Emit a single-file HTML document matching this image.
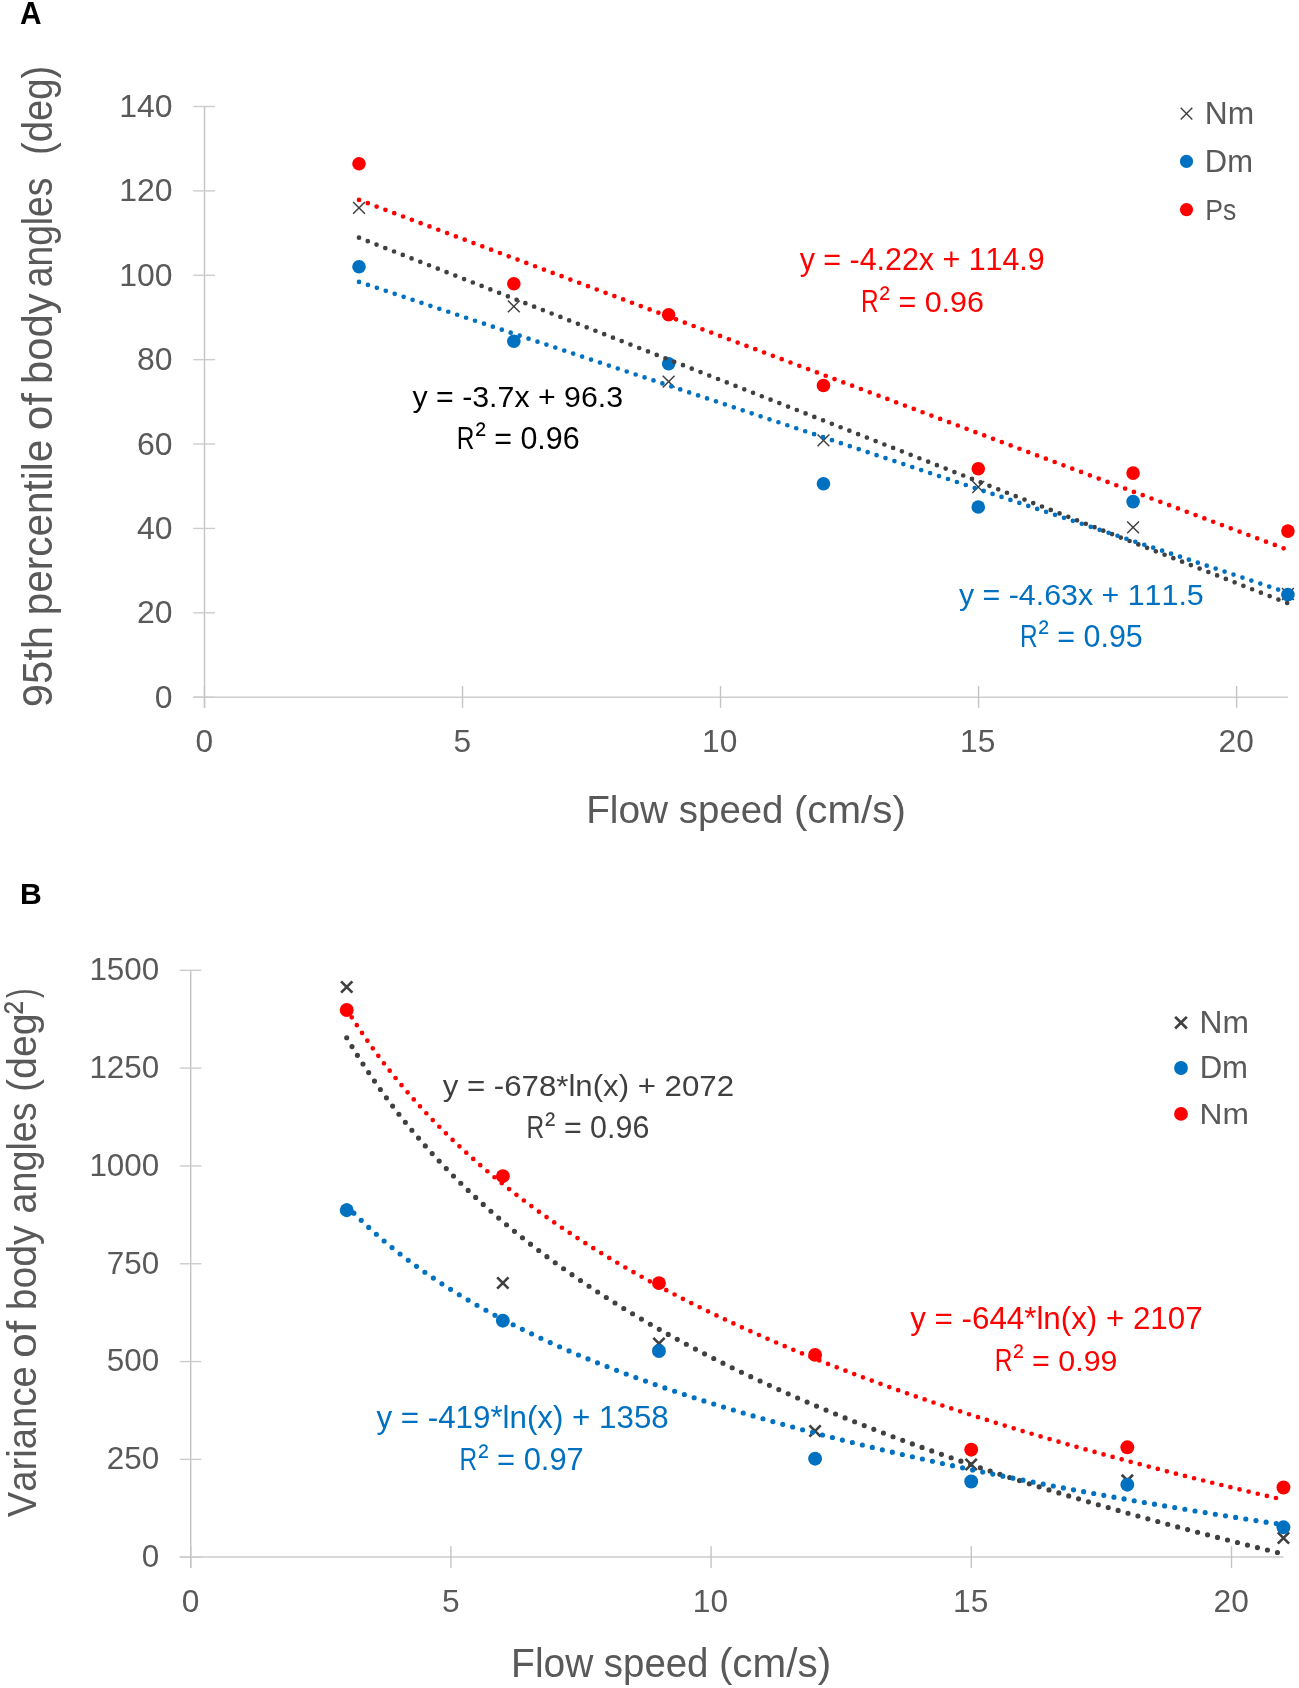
<!DOCTYPE html>
<html><head><meta charset="utf-8"><style>
html,body{margin:0;padding:0;background:#fff;}
svg{display:block;will-change:transform;}
text{font-family:"Liberation Sans",sans-serif;font-kerning:none;white-space:pre;}
</style></head><body>
<svg width="1299" height="1688" viewBox="0 0 1299 1688">
<rect width="1299" height="1688" fill="#fff"/>
<line x1="204.5" y1="106.3" x2="204.5" y2="707.8" stroke="#C4C4C4" stroke-width="1.4"/>
<line x1="193.2" y1="697.2" x2="1287.90" y2="697.2" stroke="#CDCDCD" stroke-width="1.4"/>
<line x1="193.2" y1="697.20" x2="215" y2="697.20" stroke="#CDCDCD" stroke-width="1.4"/>
<line x1="193.2" y1="612.81" x2="215" y2="612.81" stroke="#CDCDCD" stroke-width="1.4"/>
<line x1="193.2" y1="528.43" x2="215" y2="528.43" stroke="#CDCDCD" stroke-width="1.4"/>
<line x1="193.2" y1="444.04" x2="215" y2="444.04" stroke="#CDCDCD" stroke-width="1.4"/>
<line x1="193.2" y1="359.66" x2="215" y2="359.66" stroke="#CDCDCD" stroke-width="1.4"/>
<line x1="193.2" y1="275.27" x2="215" y2="275.27" stroke="#CDCDCD" stroke-width="1.4"/>
<line x1="193.2" y1="190.89" x2="215" y2="190.89" stroke="#CDCDCD" stroke-width="1.4"/>
<line x1="193.2" y1="106.50" x2="215" y2="106.50" stroke="#CDCDCD" stroke-width="1.4"/>
<line x1="204.50" y1="686" x2="204.50" y2="707.8" stroke="#C4C4C4" stroke-width="1.4"/>
<line x1="462.52" y1="686" x2="462.52" y2="707.8" stroke="#C4C4C4" stroke-width="1.4"/>
<line x1="720.55" y1="686" x2="720.55" y2="707.8" stroke="#C4C4C4" stroke-width="1.4"/>
<line x1="978.57" y1="686" x2="978.57" y2="707.8" stroke="#C4C4C4" stroke-width="1.4"/>
<line x1="1236.60" y1="686" x2="1236.60" y2="707.8" stroke="#C4C4C4" stroke-width="1.4"/>
<text transform="translate(156.01,707.80) scale(1.0000,1)" x="-1.25" y="0" font-size="31.98" font-weight="normal" fill="#595959">0</text>
<text transform="translate(138.59,623.41) scale(1.0000,1)" x="-1.61" y="0" font-size="31.98" font-weight="normal" fill="#595959">20</text>
<text transform="translate(137.71,539.03) scale(1.0000,1)" x="-0.73" y="0" font-size="31.98" font-weight="normal" fill="#595959">40</text>
<text transform="translate(138.60,454.64) scale(1.0000,1)" x="-1.62" y="0" font-size="31.98" font-weight="normal" fill="#595959">60</text>
<text transform="translate(138.37,370.26) scale(1.0000,1)" x="-1.39" y="0" font-size="31.98" font-weight="normal" fill="#595959">80</text>
<text transform="translate(121.63,285.87) scale(1.0000,1)" x="-2.44" y="0" font-size="31.98" font-weight="normal" fill="#595959">100</text>
<text transform="translate(121.63,201.49) scale(1.0000,1)" x="-2.44" y="0" font-size="31.98" font-weight="normal" fill="#595959">120</text>
<text transform="translate(121.63,117.10) scale(1.0000,1)" x="-2.44" y="0" font-size="31.98" font-weight="normal" fill="#595959">140</text>
<text transform="translate(196.63,752.00) scale(1.0000,1)" x="-1.24" y="0" font-size="31.69" font-weight="normal" fill="#595959">0</text>
<text transform="translate(454.71,752.00) scale(1.0000,1)" x="-1.27" y="0" font-size="31.69" font-weight="normal" fill="#595959">5</text>
<text transform="translate(704.45,752.00) scale(1.0000,1)" x="-2.41" y="0" font-size="31.69" font-weight="normal" fill="#595959">10</text>
<text transform="translate(962.52,752.00) scale(1.0000,1)" x="-2.41" y="0" font-size="31.69" font-weight="normal" fill="#595959">15</text>
<text transform="translate(1220.09,752.00) scale(1.0000,1)" x="-1.59" y="0" font-size="31.69" font-weight="normal" fill="#595959">20</text>
<path d="M353.09,201.97L364.94,213.83M353.09,213.83L364.94,201.97" stroke="#404040" stroke-width="1.5" fill="none"/>
<path d="M507.90,300.47L519.75,312.32M507.90,312.32L519.75,300.47" stroke="#404040" stroke-width="1.5" fill="none"/>
<path d="M662.72,375.68L674.57,387.53M662.72,387.53L674.57,375.68" stroke="#404040" stroke-width="1.5" fill="none"/>
<path d="M817.54,434.47L829.38,446.32M817.54,446.32L829.38,434.47" stroke="#404040" stroke-width="1.5" fill="none"/>
<path d="M972.35,481.07L984.20,492.93M972.35,492.93L984.20,481.07" stroke="#404040" stroke-width="1.5" fill="none"/>
<path d="M1127.16,521.48L1139.01,533.32M1127.16,533.32L1139.01,521.48" stroke="#404040" stroke-width="1.5" fill="none"/>
<path d="M1281.98,588.08L1293.83,599.92M1281.98,599.92L1293.83,588.08" stroke="#404040" stroke-width="1.5" fill="none"/>
<circle cx="359.01" cy="266.70" r="6.80" fill="#0070C0"/>
<circle cx="513.83" cy="341.20" r="6.80" fill="#0070C0"/>
<circle cx="668.64" cy="363.70" r="6.80" fill="#0070C0"/>
<circle cx="823.46" cy="483.80" r="6.80" fill="#0070C0"/>
<circle cx="978.27" cy="507.00" r="6.80" fill="#0070C0"/>
<circle cx="1133.09" cy="501.60" r="6.80" fill="#0070C0"/>
<circle cx="1287.90" cy="594.60" r="6.80" fill="#0070C0"/>
<circle cx="359.01" cy="163.80" r="6.80" fill="#FF0000"/>
<circle cx="513.83" cy="283.70" r="6.80" fill="#FF0000"/>
<circle cx="668.64" cy="314.70" r="6.80" fill="#FF0000"/>
<circle cx="823.46" cy="385.50" r="6.80" fill="#FF0000"/>
<circle cx="978.27" cy="468.80" r="6.80" fill="#FF0000"/>
<circle cx="1133.09" cy="473.10" r="6.80" fill="#FF0000"/>
<circle cx="1287.90" cy="531.10" r="6.80" fill="#FF0000"/>
<path d="M359.01,199.90 L1287.90,549.90" stroke="#FF0000" stroke-width="4.7" stroke-linecap="round" stroke-dasharray="0 9.41" fill="none"/>
<path d="M359.01,237.70 L1287.90,603.30" stroke="#404040" stroke-width="4.7" stroke-linecap="round" stroke-dasharray="0 9.41" fill="none"/>
<path d="M359.01,281.90 L1287.90,592.80" stroke="#0070C0" stroke-width="4.7" stroke-linecap="round" stroke-dasharray="0 9.41" fill="none"/>
<path d="M1180.69,107.79L1192.31,119.41M1180.69,119.41L1192.31,107.79" stroke="#404040" stroke-width="1.4" fill="none"/>
<circle cx="1186.50" cy="161.40" r="6.60" fill="#0070C0"/>
<circle cx="1186.50" cy="209.60" r="6.60" fill="#FF0000"/>
<text transform="translate(1207.40,123.90) scale(1.0165,1)" x="-2.56" y="0" font-size="31.25" font-weight="normal" fill="#595959">Nm</text>
<text transform="translate(1207.40,171.80) scale(1.0007,1)" x="-2.54" y="0" font-size="30.96" font-weight="normal" fill="#595959">Dm</text>
<text transform="translate(1207.40,220.00) scale(0.8841,1)" x="-2.47" y="0" font-size="30.09" font-weight="normal" fill="#595959">Ps</text>
<text transform="translate(799.80,269.90) scale(0.9685,1)" x="-0.08" y="0" font-size="31.40" font-weight="normal" fill="#FF0000">y = -4.22x + 114.9</text>
<text transform="translate(863.00,311.70) scale(0.7637,1)" x="-2.62" y="0" font-size="31.98" font-weight="normal" fill="#FF0000">R</text>
<text transform="translate(880.20,308.56) scale(0.9607,1)" x="-0.65" y="0" font-size="32.22" fill="#FF0000">²</text>
<text transform="translate(899.90,311.70) scale(1.0026,1)" x="-1.48" y="0" font-size="30.38" font-weight="normal" fill="#FF0000">= 0.96</text>
<text transform="translate(412.60,406.60) scale(0.9972,1)" x="-0.07" y="0" font-size="30.38" font-weight="normal" fill="#000000">y = -3.7x + 96.3</text>
<text transform="translate(458.80,448.60) scale(0.7637,1)" x="-2.62" y="0" font-size="31.98" font-weight="normal" fill="#000000">R</text>
<text transform="translate(476.00,445.46) scale(0.9607,1)" x="-0.65" y="0" font-size="32.22" fill="#000000">²</text>
<text transform="translate(495.70,448.60) scale(0.9826,1)" x="-1.51" y="0" font-size="30.96" font-weight="normal" fill="#000000">= 0.96</text>
<text transform="translate(959.00,604.90) scale(1.0349,1)" x="-0.07" y="0" font-size="29.36" font-weight="normal" fill="#0070C0">y = -4.63x + 111.5</text>
<text transform="translate(1021.90,646.60) scale(0.7637,1)" x="-2.62" y="0" font-size="31.98" font-weight="normal" fill="#0070C0">R</text>
<text transform="translate(1039.10,643.46) scale(0.9607,1)" x="-0.65" y="0" font-size="32.22" fill="#0070C0">²</text>
<text transform="translate(1058.80,646.60) scale(0.9971,1)" x="-1.49" y="0" font-size="30.52" font-weight="normal" fill="#0070C0">= 0.95</text>
<text transform="translate(20.80,24.20) scale(0.9766,1)" x="-0.76" y="0" font-size="30.52" font-weight="bold" fill="#000000">A</text>
<text transform="translate(589.30,823.10) scale(0.9883,1)" x="-3.22" y="0" font-size="39.24" font-weight="normal" fill="#595959">Flow</text>
<text transform="translate(679.90,823.10) scale(0.9787,1)" x="-1.09" y="0" font-size="39.24" font-weight="normal" fill="#595959">speed</text>
<text transform="translate(796.40,823.10) scale(1.0278,1)" x="-2.43" y="0" font-size="39.24" font-weight="normal" fill="#595959">(cm/s)</text>
<text transform="translate(52.00,705.40) rotate(-90) scale(0.9653,1)" x="-2.03" y="0" font-size="43.31" font-weight="normal" fill="#595959">95th</text>
<text transform="translate(52.00,612.60) rotate(-90) scale(0.9350,1)" x="-2.79" y="0" font-size="43.31" font-weight="normal" fill="#595959">percentile</text>
<text transform="translate(52.00,428.30) rotate(-90) scale(1.0242,1)" x="-1.82" y="0" font-size="43.31" font-weight="normal" fill="#595959">of</text>
<text transform="translate(52.00,381.20) rotate(-90) scale(0.9632,1)" x="-2.79" y="0" font-size="43.31" font-weight="normal" fill="#595959">body</text>
<text transform="translate(52.00,285.70) rotate(-90) scale(0.8597,1)" x="-1.84" y="0" font-size="43.31" font-weight="normal" fill="#595959">angles</text>
<text transform="translate(52.00,152.70) rotate(-90) scale(0.8836,1)" x="-2.69" y="0" font-size="43.31" font-weight="normal" fill="#595959">(deg)</text>
<line x1="190.7" y1="970.1" x2="190.7" y2="1567.9" stroke="#C4C4C4" stroke-width="1.4"/>
<line x1="179.8" y1="1556.95" x2="1283.44" y2="1556.95" stroke="#CDCDCD" stroke-width="1.4"/>
<line x1="179.8" y1="1557.20" x2="201.4" y2="1557.20" stroke="#CDCDCD" stroke-width="1.4"/>
<line x1="179.8" y1="1459.38" x2="201.4" y2="1459.38" stroke="#CDCDCD" stroke-width="1.4"/>
<line x1="179.8" y1="1361.57" x2="201.4" y2="1361.57" stroke="#CDCDCD" stroke-width="1.4"/>
<line x1="179.8" y1="1263.75" x2="201.4" y2="1263.75" stroke="#CDCDCD" stroke-width="1.4"/>
<line x1="179.8" y1="1165.93" x2="201.4" y2="1165.93" stroke="#CDCDCD" stroke-width="1.4"/>
<line x1="179.8" y1="1068.12" x2="201.4" y2="1068.12" stroke="#CDCDCD" stroke-width="1.4"/>
<line x1="179.8" y1="970.30" x2="201.4" y2="970.30" stroke="#CDCDCD" stroke-width="1.4"/>
<line x1="190.70" y1="1546.2" x2="190.70" y2="1567.9" stroke="#C4C4C4" stroke-width="1.4"/>
<line x1="450.90" y1="1546.2" x2="450.90" y2="1567.9" stroke="#C4C4C4" stroke-width="1.4"/>
<line x1="711.10" y1="1546.2" x2="711.10" y2="1567.9" stroke="#C4C4C4" stroke-width="1.4"/>
<line x1="971.30" y1="1546.2" x2="971.30" y2="1567.9" stroke="#C4C4C4" stroke-width="1.4"/>
<line x1="1231.50" y1="1546.2" x2="1231.50" y2="1567.9" stroke="#C4C4C4" stroke-width="1.4"/>
<text transform="translate(142.99,1567.00) scale(1.0000,1)" x="-1.23" y="0" font-size="31.40" font-weight="normal" fill="#595959">0</text>
<text transform="translate(108.42,1469.18) scale(1.0000,1)" x="-1.58" y="0" font-size="31.40" font-weight="normal" fill="#595959">250</text>
<text transform="translate(108.10,1371.37) scale(1.0000,1)" x="-1.26" y="0" font-size="31.40" font-weight="normal" fill="#595959">500</text>
<text transform="translate(108.45,1273.55) scale(1.0000,1)" x="-1.61" y="0" font-size="31.40" font-weight="normal" fill="#595959">750</text>
<text transform="translate(91.77,1175.73) scale(1.0000,1)" x="-2.39" y="0" font-size="31.40" font-weight="normal" fill="#595959">1000</text>
<text transform="translate(91.77,1077.92) scale(1.0000,1)" x="-2.39" y="0" font-size="31.40" font-weight="normal" fill="#595959">1250</text>
<text transform="translate(91.77,980.10) scale(1.0000,1)" x="-2.39" y="0" font-size="31.40" font-weight="normal" fill="#595959">1500</text>
<text transform="translate(183.03,1612.10) scale(1.0000,1)" x="-1.24" y="0" font-size="31.69" font-weight="normal" fill="#595959">0</text>
<text transform="translate(443.29,1612.10) scale(1.0000,1)" x="-1.27" y="0" font-size="31.69" font-weight="normal" fill="#595959">5</text>
<text transform="translate(695.20,1612.10) scale(1.0000,1)" x="-2.41" y="0" font-size="31.69" font-weight="normal" fill="#595959">10</text>
<text transform="translate(955.45,1612.10) scale(1.0000,1)" x="-2.41" y="0" font-size="31.69" font-weight="normal" fill="#595959">15</text>
<text transform="translate(1215.19,1612.10) scale(1.0000,1)" x="-1.59" y="0" font-size="31.69" font-weight="normal" fill="#595959">20</text>
<path d="M341.07,981.35L352.38,992.65M341.07,992.65L352.38,981.35" stroke="#404040" stroke-width="2.7" fill="none"/>
<path d="M497.19,1277.35L508.50,1288.65M497.19,1288.65L508.50,1277.35" stroke="#404040" stroke-width="2.7" fill="none"/>
<path d="M653.31,1337.85L664.62,1349.15M653.31,1349.15L664.62,1337.85" stroke="#404040" stroke-width="2.7" fill="none"/>
<path d="M809.43,1425.35L820.74,1436.65M809.43,1436.65L820.74,1425.35" stroke="#404040" stroke-width="2.7" fill="none"/>
<path d="M965.55,1458.85L976.86,1470.15M965.55,1470.15L976.86,1458.85" stroke="#404040" stroke-width="2.7" fill="none"/>
<path d="M1121.67,1474.75L1132.98,1486.06M1121.67,1486.06L1132.98,1474.75" stroke="#404040" stroke-width="2.7" fill="none"/>
<path d="M1277.79,1532.35L1289.10,1543.65M1277.79,1543.65L1289.10,1532.35" stroke="#404040" stroke-width="2.7" fill="none"/>
<circle cx="346.72" cy="1210.20" r="6.95" fill="#0070C0"/>
<circle cx="502.84" cy="1320.70" r="6.95" fill="#0070C0"/>
<circle cx="658.96" cy="1351.00" r="6.95" fill="#0070C0"/>
<circle cx="815.08" cy="1458.70" r="6.95" fill="#0070C0"/>
<circle cx="971.20" cy="1481.50" r="6.95" fill="#0070C0"/>
<circle cx="1127.32" cy="1484.70" r="6.95" fill="#0070C0"/>
<circle cx="1283.44" cy="1527.30" r="6.95" fill="#0070C0"/>
<circle cx="346.72" cy="1010.00" r="6.95" fill="#FF0000"/>
<circle cx="502.84" cy="1176.20" r="6.95" fill="#FF0000"/>
<circle cx="658.96" cy="1283.10" r="6.95" fill="#FF0000"/>
<circle cx="815.08" cy="1354.90" r="6.95" fill="#FF0000"/>
<circle cx="971.20" cy="1449.70" r="6.95" fill="#FF0000"/>
<circle cx="1127.32" cy="1447.30" r="6.95" fill="#FF0000"/>
<circle cx="1283.44" cy="1487.50" r="6.95" fill="#FF0000"/>
<path d="M346.72,1009.42 L349.06,1013.18 L351.40,1016.87 L353.75,1020.52 L356.09,1024.11 L358.43,1027.65 L360.77,1031.14 L363.11,1034.58 L365.45,1037.98 L367.80,1041.33 L370.14,1044.64 L372.48,1047.91 L374.82,1051.13 L377.16,1054.31 L379.51,1057.46 L381.85,1060.56 L384.19,1063.63 L386.53,1066.66 L388.87,1069.65 L391.21,1072.61 L393.56,1075.53 L395.90,1078.42 L398.24,1081.28 L400.58,1084.11 L402.92,1086.90 L405.26,1089.67 L407.61,1092.40 L409.95,1095.11 L412.29,1097.78 L414.63,1100.43 L416.97,1103.05 L419.32,1105.64 L421.66,1108.21 L424.00,1110.75 L426.34,1113.27 L428.68,1115.76 L431.02,1118.22 L433.37,1120.67 L435.71,1123.08 L438.05,1125.48 L440.39,1127.85 L442.73,1130.21 L445.08,1132.54 L447.42,1134.84 L449.76,1137.13 L452.10,1139.40 L454.44,1141.64 L456.78,1143.87 L459.13,1146.08 L461.47,1148.27 L463.81,1150.43 L466.15,1152.58 L468.49,1154.72 L470.84,1156.83 L473.18,1158.93 L475.52,1161.01 L477.86,1163.07 L480.20,1165.12 L482.54,1167.15 L484.89,1169.16 L487.23,1171.16 L489.57,1173.14 L491.91,1175.10 L494.25,1177.05 L496.60,1178.99 L498.94,1180.91 L501.28,1182.82 L503.62,1184.71 L505.96,1186.59 L508.30,1188.45 L510.65,1190.30 L512.99,1192.14 L515.33,1193.96 L517.67,1195.77 L520.01,1197.57 L522.36,1199.36 L524.70,1201.13 L527.04,1202.89 L529.38,1204.64 L531.72,1206.37 L534.06,1208.10 L536.41,1209.81 L538.75,1211.51 L541.09,1213.20 L543.43,1214.88 L545.77,1216.54 L548.11,1218.20 L550.46,1219.84 L552.80,1221.48 L555.14,1223.10 L557.48,1224.72 L559.82,1226.32 L562.17,1227.91 L564.51,1229.50 L566.85,1231.07 L569.19,1232.63 L571.53,1234.19 L573.87,1235.73 L576.22,1237.27 L578.56,1238.79 L580.90,1240.31 L583.24,1241.82 L585.58,1243.31 L587.93,1244.80 L590.27,1246.28 L592.61,1247.76 L594.95,1249.22 L597.29,1250.67 L599.63,1252.12 L601.98,1253.56 L604.32,1254.99 L606.66,1256.41 L609.00,1257.83 L611.34,1259.23 L613.69,1260.63 L616.03,1262.02 L618.37,1263.41 L620.71,1264.78 L623.05,1266.15 L625.39,1267.51 L627.74,1268.86 L630.08,1270.21 L632.42,1271.55 L634.76,1272.88 L637.10,1274.21 L639.45,1275.52 L641.79,1276.84 L644.13,1278.14 L646.47,1279.44 L648.81,1280.73 L651.15,1282.01 L653.50,1283.29 L655.84,1284.56 L658.18,1285.83 L660.52,1287.09 L662.86,1288.34 L665.20,1289.59 L667.55,1290.83 L669.89,1292.06 L672.23,1293.29 L674.57,1294.51 L676.91,1295.73 L679.26,1296.94 L681.60,1298.14 L683.94,1299.34 L686.28,1300.53 L688.62,1301.72 L690.96,1302.90 L693.31,1304.08 L695.65,1305.25 L697.99,1306.42 L700.33,1307.58 L702.67,1308.73 L705.02,1309.88 L707.36,1311.03 L709.70,1312.17 L712.04,1313.30 L714.38,1314.43 L716.72,1315.55 L719.07,1316.67 L721.41,1317.79 L723.75,1318.90 L726.09,1320.00 L728.43,1321.10 L730.78,1322.19 L733.12,1323.28 L735.46,1324.37 L737.80,1325.45 L740.14,1326.53 L742.48,1327.60 L744.83,1328.66 L747.17,1329.73 L749.51,1330.79 L751.85,1331.84 L754.19,1332.89 L756.54,1333.93 L758.88,1334.97 L761.22,1336.01 L763.56,1337.04 L765.90,1338.07 L768.24,1339.09 L770.59,1340.11 L772.93,1341.13 L775.27,1342.14 L777.61,1343.15 L779.95,1344.15 L782.29,1345.15 L784.64,1346.14 L786.98,1347.14 L789.32,1348.12 L791.66,1349.11 L794.00,1350.09 L796.35,1351.06 L798.69,1352.03 L801.03,1353.00 L803.37,1353.97 L805.71,1354.93 L808.05,1355.89 L810.40,1356.84 L812.74,1357.79 L815.08,1358.74 L817.42,1359.68 L819.76,1360.62 L822.11,1361.56 L824.45,1362.49 L826.79,1363.42 L829.13,1364.34 L831.47,1365.27 L833.81,1366.19 L836.16,1367.10 L838.50,1368.01 L840.84,1368.92 L843.18,1369.83 L845.52,1370.73 L847.87,1371.63 L850.21,1372.53 L852.55,1373.42 L854.89,1374.31 L857.23,1375.20 L859.57,1376.08 L861.92,1376.96 L864.26,1377.84 L866.60,1378.71 L868.94,1379.58 L871.28,1380.45 L873.63,1381.32 L875.97,1382.18 L878.31,1383.04 L880.65,1383.90 L882.99,1384.75 L885.33,1385.60 L887.68,1386.45 L890.02,1387.29 L892.36,1388.14 L894.70,1388.98 L897.04,1389.81 L899.38,1390.65 L901.73,1391.48 L904.07,1392.31 L906.41,1393.13 L908.75,1393.95 L911.09,1394.77 L913.44,1395.59 L915.78,1396.41 L918.12,1397.22 L920.46,1398.03 L922.80,1398.84 L925.14,1399.64 L927.49,1400.44 L929.83,1401.24 L932.17,1402.04 L934.51,1402.83 L936.85,1403.63 L939.20,1404.42 L941.54,1405.20 L943.88,1405.99 L946.22,1406.77 L948.56,1407.55 L950.90,1408.33 L953.25,1409.10 L955.59,1409.87 L957.93,1410.64 L960.27,1411.41 L962.61,1412.18 L964.96,1412.94 L967.30,1413.70 L969.64,1414.46 L971.98,1415.22 L974.32,1415.97 L976.66,1416.72 L979.01,1417.47 L981.35,1418.22 L983.69,1418.96 L986.03,1419.71 L988.37,1420.45 L990.72,1421.19 L993.06,1421.92 L995.40,1422.66 L997.74,1423.39 L1000.08,1424.12 L1002.42,1424.85 L1004.77,1425.57 L1007.11,1426.30 L1009.45,1427.02 L1011.79,1427.74 L1014.13,1428.46 L1016.47,1429.17 L1018.82,1429.88 L1021.16,1430.60 L1023.50,1431.30 L1025.84,1432.01 L1028.18,1432.72 L1030.53,1433.42 L1032.87,1434.12 L1035.21,1434.82 L1037.55,1435.52 L1039.89,1436.22 L1042.23,1436.91 L1044.58,1437.60 L1046.92,1438.29 L1049.26,1438.98 L1051.60,1439.67 L1053.94,1440.35 L1056.29,1441.03 L1058.63,1441.71 L1060.97,1442.39 L1063.31,1443.07 L1065.65,1443.75 L1067.99,1444.42 L1070.34,1445.09 L1072.68,1445.76 L1075.02,1446.43 L1077.36,1447.09 L1079.70,1447.76 L1082.05,1448.42 L1084.39,1449.08 L1086.73,1449.74 L1089.07,1450.40 L1091.41,1451.06 L1093.75,1451.71 L1096.10,1452.36 L1098.44,1453.01 L1100.78,1453.66 L1103.12,1454.31 L1105.46,1454.96 L1107.81,1455.60 L1110.15,1456.24 L1112.49,1456.88 L1114.83,1457.52 L1117.17,1458.16 L1119.51,1458.80 L1121.86,1459.43 L1124.20,1460.06 L1126.54,1460.69 L1128.88,1461.32 L1131.22,1461.95 L1133.56,1462.58 L1135.91,1463.20 L1138.25,1463.83 L1140.59,1464.45 L1142.93,1465.07 L1145.27,1465.69 L1147.62,1466.31 L1149.96,1466.92 L1152.30,1467.54 L1154.64,1468.15 L1156.98,1468.76 L1159.32,1469.37 L1161.67,1469.98 L1164.01,1470.59 L1166.35,1471.19 L1168.69,1471.79 L1171.03,1472.40 L1173.38,1473.00 L1175.72,1473.60 L1178.06,1474.20 L1180.40,1474.79 L1182.74,1475.39 L1185.08,1475.98 L1187.43,1476.58 L1189.77,1477.17 L1192.11,1477.76 L1194.45,1478.35 L1196.79,1478.93 L1199.14,1479.52 L1201.48,1480.10 L1203.82,1480.69 L1206.16,1481.27 L1208.50,1481.85 L1210.84,1482.43 L1213.19,1483.00 L1215.53,1483.58 L1217.87,1484.16 L1220.21,1484.73 L1222.55,1485.30 L1224.89,1485.87 L1227.24,1486.44 L1229.58,1487.01 L1231.92,1487.58 L1234.26,1488.14 L1236.60,1488.71 L1238.95,1489.27 L1241.29,1489.84 L1243.63,1490.40 L1245.97,1490.96 L1248.31,1491.51 L1250.65,1492.07 L1253.00,1492.63 L1255.34,1493.18 L1257.68,1493.74 L1260.02,1494.29 L1262.36,1494.84 L1264.71,1495.39 L1267.05,1495.94 L1269.39,1496.49 L1271.73,1497.03 L1274.07,1497.58 L1276.41,1498.12 L1278.76,1498.66 L1281.10,1499.21 L1283.44,1499.75" stroke="#FF0000" stroke-width="4.7" stroke-linecap="round" stroke-dasharray="0 9.36" fill="none"/>
<path d="M346.72,1037.73 L349.06,1041.68 L351.40,1045.58 L353.75,1049.41 L356.09,1053.19 L358.43,1056.92 L360.77,1060.60 L363.11,1064.22 L365.45,1067.80 L367.80,1071.33 L370.14,1074.81 L372.48,1078.25 L374.82,1081.64 L377.16,1084.99 L379.51,1088.30 L381.85,1091.57 L384.19,1094.80 L386.53,1097.99 L388.87,1101.14 L391.21,1104.25 L393.56,1107.33 L395.90,1110.38 L398.24,1113.39 L400.58,1116.36 L402.92,1119.30 L405.26,1122.21 L407.61,1125.09 L409.95,1127.94 L412.29,1130.76 L414.63,1133.54 L416.97,1136.30 L419.32,1139.03 L421.66,1141.73 L424.00,1144.41 L426.34,1147.06 L428.68,1149.68 L431.02,1152.28 L433.37,1154.85 L435.71,1157.39 L438.05,1159.92 L440.39,1162.42 L442.73,1164.89 L445.08,1167.34 L447.42,1169.77 L449.76,1172.18 L452.10,1174.57 L454.44,1176.93 L456.78,1179.28 L459.13,1181.60 L461.47,1183.90 L463.81,1186.19 L466.15,1188.45 L468.49,1190.70 L470.84,1192.92 L473.18,1195.13 L475.52,1197.32 L477.86,1199.49 L480.20,1201.65 L482.54,1203.78 L484.89,1205.90 L487.23,1208.00 L489.57,1210.09 L491.91,1212.16 L494.25,1214.21 L496.60,1216.25 L498.94,1218.27 L501.28,1220.28 L503.62,1222.27 L505.96,1224.25 L508.30,1226.21 L510.65,1228.16 L512.99,1230.10 L515.33,1232.02 L517.67,1233.92 L520.01,1235.81 L522.36,1237.69 L524.70,1239.56 L527.04,1241.41 L529.38,1243.25 L531.72,1245.08 L534.06,1246.90 L536.41,1248.70 L538.75,1250.49 L541.09,1252.27 L543.43,1254.03 L545.77,1255.79 L548.11,1257.53 L550.46,1259.26 L552.80,1260.98 L555.14,1262.69 L557.48,1264.39 L559.82,1266.08 L562.17,1267.76 L564.51,1269.42 L566.85,1271.08 L569.19,1272.73 L571.53,1274.36 L573.87,1275.99 L576.22,1277.60 L578.56,1279.21 L580.90,1280.81 L583.24,1282.39 L585.58,1283.97 L587.93,1285.54 L590.27,1287.10 L592.61,1288.65 L594.95,1290.19 L597.29,1291.72 L599.63,1293.24 L601.98,1294.76 L604.32,1296.26 L606.66,1297.76 L609.00,1299.25 L611.34,1300.73 L613.69,1302.20 L616.03,1303.67 L618.37,1305.12 L620.71,1306.57 L623.05,1308.01 L625.39,1309.45 L627.74,1310.87 L630.08,1312.29 L632.42,1313.70 L634.76,1315.10 L637.10,1316.49 L639.45,1317.88 L641.79,1319.26 L644.13,1320.64 L646.47,1322.00 L648.81,1323.36 L651.15,1324.71 L653.50,1326.06 L655.84,1327.40 L658.18,1328.73 L660.52,1330.06 L662.86,1331.37 L665.20,1332.69 L667.55,1333.99 L669.89,1335.29 L672.23,1336.58 L674.57,1337.87 L676.91,1339.15 L679.26,1340.43 L681.60,1341.69 L683.94,1342.96 L686.28,1344.21 L688.62,1345.46 L690.96,1346.71 L693.31,1347.95 L695.65,1349.18 L697.99,1350.41 L700.33,1351.63 L702.67,1352.84 L705.02,1354.05 L707.36,1355.26 L709.70,1356.46 L712.04,1357.65 L714.38,1358.84 L716.72,1360.02 L719.07,1361.20 L721.41,1362.38 L723.75,1363.54 L726.09,1364.71 L728.43,1365.86 L730.78,1367.02 L733.12,1368.16 L735.46,1369.31 L737.80,1370.44 L740.14,1371.58 L742.48,1372.71 L744.83,1373.83 L747.17,1374.95 L749.51,1376.06 L751.85,1377.17 L754.19,1378.27 L756.54,1379.37 L758.88,1380.47 L761.22,1381.56 L763.56,1382.65 L765.90,1383.73 L768.24,1384.81 L770.59,1385.88 L772.93,1386.95 L775.27,1388.01 L777.61,1389.07 L779.95,1390.13 L782.29,1391.18 L784.64,1392.23 L786.98,1393.27 L789.32,1394.31 L791.66,1395.35 L794.00,1396.38 L796.35,1397.41 L798.69,1398.43 L801.03,1399.45 L803.37,1400.47 L805.71,1401.48 L808.05,1402.49 L810.40,1403.49 L812.74,1404.49 L815.08,1405.49 L817.42,1406.48 L819.76,1407.47 L822.11,1408.46 L824.45,1409.44 L826.79,1410.42 L829.13,1411.39 L831.47,1412.36 L833.81,1413.33 L836.16,1414.29 L838.50,1415.25 L840.84,1416.21 L843.18,1417.17 L845.52,1418.12 L847.87,1419.06 L850.21,1420.01 L852.55,1420.95 L854.89,1421.88 L857.23,1422.82 L859.57,1423.75 L861.92,1424.67 L864.26,1425.60 L866.60,1426.52 L868.94,1427.44 L871.28,1428.35 L873.63,1429.26 L875.97,1430.17 L878.31,1431.07 L880.65,1431.98 L882.99,1432.87 L885.33,1433.77 L887.68,1434.66 L890.02,1435.55 L892.36,1436.44 L894.70,1437.32 L897.04,1438.20 L899.38,1439.08 L901.73,1439.96 L904.07,1440.83 L906.41,1441.70 L908.75,1442.56 L911.09,1443.43 L913.44,1444.29 L915.78,1445.15 L918.12,1446.00 L920.46,1446.85 L922.80,1447.70 L925.14,1448.55 L927.49,1449.40 L929.83,1450.24 L932.17,1451.08 L934.51,1451.91 L936.85,1452.75 L939.20,1453.58 L941.54,1454.41 L943.88,1455.23 L946.22,1456.06 L948.56,1456.88 L950.90,1457.70 L953.25,1458.51 L955.59,1459.32 L957.93,1460.14 L960.27,1460.94 L962.61,1461.75 L964.96,1462.55 L967.30,1463.35 L969.64,1464.15 L971.98,1464.95 L974.32,1465.74 L976.66,1466.53 L979.01,1467.32 L981.35,1468.11 L983.69,1468.89 L986.03,1469.68 L988.37,1470.46 L990.72,1471.23 L993.06,1472.01 L995.40,1472.78 L997.74,1473.55 L1000.08,1474.32 L1002.42,1475.09 L1004.77,1475.85 L1007.11,1476.61 L1009.45,1477.37 L1011.79,1478.13 L1014.13,1478.89 L1016.47,1479.64 L1018.82,1480.39 L1021.16,1481.14 L1023.50,1481.89 L1025.84,1482.63 L1028.18,1483.37 L1030.53,1484.12 L1032.87,1484.85 L1035.21,1485.59 L1037.55,1486.33 L1039.89,1487.06 L1042.23,1487.79 L1044.58,1488.52 L1046.92,1489.24 L1049.26,1489.97 L1051.60,1490.69 L1053.94,1491.41 L1056.29,1492.13 L1058.63,1492.85 L1060.97,1493.56 L1063.31,1494.27 L1065.65,1494.98 L1067.99,1495.69 L1070.34,1496.40 L1072.68,1497.11 L1075.02,1497.81 L1077.36,1498.51 L1079.70,1499.21 L1082.05,1499.91 L1084.39,1500.60 L1086.73,1501.30 L1089.07,1501.99 L1091.41,1502.68 L1093.75,1503.37 L1096.10,1504.06 L1098.44,1504.74 L1100.78,1505.43 L1103.12,1506.11 L1105.46,1506.79 L1107.81,1507.46 L1110.15,1508.14 L1112.49,1508.82 L1114.83,1509.49 L1117.17,1510.16 L1119.51,1510.83 L1121.86,1511.50 L1124.20,1512.16 L1126.54,1512.83 L1128.88,1513.49 L1131.22,1514.15 L1133.56,1514.81 L1135.91,1515.47 L1138.25,1516.13 L1140.59,1516.78 L1142.93,1517.43 L1145.27,1518.09 L1147.62,1518.74 L1149.96,1519.38 L1152.30,1520.03 L1154.64,1520.68 L1156.98,1521.32 L1159.32,1521.96 L1161.67,1522.60 L1164.01,1523.24 L1166.35,1523.88 L1168.69,1524.51 L1171.03,1525.15 L1173.38,1525.78 L1175.72,1526.41 L1178.06,1527.04 L1180.40,1527.67 L1182.74,1528.30 L1185.08,1528.92 L1187.43,1529.55 L1189.77,1530.17 L1192.11,1530.79 L1194.45,1531.41 L1196.79,1532.03 L1199.14,1532.65 L1201.48,1533.26 L1203.82,1533.88 L1206.16,1534.49 L1208.50,1535.10 L1210.84,1535.71 L1213.19,1536.32 L1215.53,1536.92 L1217.87,1537.53 L1220.21,1538.13 L1222.55,1538.74 L1224.89,1539.34 L1227.24,1539.94 L1229.58,1540.54 L1231.92,1541.13 L1234.26,1541.73 L1236.60,1542.32 L1238.95,1542.92 L1241.29,1543.51 L1243.63,1544.10 L1245.97,1544.69 L1248.31,1545.28 L1250.65,1545.86 L1253.00,1546.45 L1255.34,1547.03 L1257.68,1547.61 L1260.02,1548.20 L1262.36,1548.78 L1264.71,1549.36 L1267.05,1549.93 L1269.39,1550.51 L1271.73,1551.09 L1274.07,1551.66 L1276.41,1552.23 L1278.76,1552.80 L1281.10,1553.37 L1283.44,1553.94" stroke="#404040" stroke-width="5.15" stroke-linecap="round" stroke-dasharray="0 10.3" fill="none"/>
<path d="M346.72,1205.77 L349.06,1208.21 L351.40,1210.61 L353.75,1212.98 L356.09,1215.32 L358.43,1217.62 L360.77,1219.90 L363.11,1222.14 L365.45,1224.35 L367.80,1226.53 L370.14,1228.68 L372.48,1230.80 L374.82,1232.90 L377.16,1234.97 L379.51,1237.02 L381.85,1239.04 L384.19,1241.03 L386.53,1243.00 L388.87,1244.95 L391.21,1246.88 L393.56,1248.78 L395.90,1250.66 L398.24,1252.52 L400.58,1254.36 L402.92,1256.18 L405.26,1257.97 L407.61,1259.75 L409.95,1261.51 L412.29,1263.25 L414.63,1264.98 L416.97,1266.68 L419.32,1268.37 L421.66,1270.04 L424.00,1271.69 L426.34,1273.33 L428.68,1274.95 L431.02,1276.55 L433.37,1278.14 L435.71,1279.72 L438.05,1281.28 L440.39,1282.82 L442.73,1284.35 L445.08,1285.87 L447.42,1287.37 L449.76,1288.86 L452.10,1290.33 L454.44,1291.79 L456.78,1293.24 L459.13,1294.68 L461.47,1296.10 L463.81,1297.51 L466.15,1298.91 L468.49,1300.30 L470.84,1301.67 L473.18,1303.04 L475.52,1304.39 L477.86,1305.73 L480.20,1307.06 L482.54,1308.38 L484.89,1309.69 L487.23,1310.99 L489.57,1312.28 L491.91,1313.56 L494.25,1314.83 L496.60,1316.09 L498.94,1317.34 L501.28,1318.58 L503.62,1319.81 L505.96,1321.03 L508.30,1322.25 L510.65,1323.45 L512.99,1324.65 L515.33,1325.83 L517.67,1327.01 L520.01,1328.18 L522.36,1329.34 L524.70,1330.49 L527.04,1331.64 L529.38,1332.78 L531.72,1333.91 L534.06,1335.03 L536.41,1336.14 L538.75,1337.25 L541.09,1338.35 L543.43,1339.44 L545.77,1340.52 L548.11,1341.60 L550.46,1342.67 L552.80,1343.73 L555.14,1344.79 L557.48,1345.84 L559.82,1346.88 L562.17,1347.92 L564.51,1348.95 L566.85,1349.97 L569.19,1350.99 L571.53,1352.00 L573.87,1353.01 L576.22,1354.01 L578.56,1355.00 L580.90,1355.98 L583.24,1356.97 L585.58,1357.94 L587.93,1358.91 L590.27,1359.87 L592.61,1360.83 L594.95,1361.78 L597.29,1362.73 L599.63,1363.67 L601.98,1364.61 L604.32,1365.54 L606.66,1366.46 L609.00,1367.38 L611.34,1368.30 L613.69,1369.21 L616.03,1370.11 L618.37,1371.01 L620.71,1371.91 L623.05,1372.80 L625.39,1373.68 L627.74,1374.56 L630.08,1375.44 L632.42,1376.31 L634.76,1377.18 L637.10,1378.04 L639.45,1378.90 L641.79,1379.75 L644.13,1380.60 L646.47,1381.44 L648.81,1382.28 L651.15,1383.12 L653.50,1383.95 L655.84,1384.78 L658.18,1385.60 L660.52,1386.42 L662.86,1387.23 L665.20,1388.05 L667.55,1388.85 L669.89,1389.66 L672.23,1390.45 L674.57,1391.25 L676.91,1392.04 L679.26,1392.83 L681.60,1393.61 L683.94,1394.39 L686.28,1395.17 L688.62,1395.94 L690.96,1396.71 L693.31,1397.48 L695.65,1398.24 L697.99,1399.00 L700.33,1399.75 L702.67,1400.50 L705.02,1401.25 L707.36,1402.00 L709.70,1402.74 L712.04,1403.47 L714.38,1404.21 L716.72,1404.94 L719.07,1405.67 L721.41,1406.39 L723.75,1407.12 L726.09,1407.83 L728.43,1408.55 L730.78,1409.26 L733.12,1409.97 L735.46,1410.68 L737.80,1411.38 L740.14,1412.08 L742.48,1412.78 L744.83,1413.47 L747.17,1414.16 L749.51,1414.85 L751.85,1415.54 L754.19,1416.22 L756.54,1416.90 L758.88,1417.58 L761.22,1418.25 L763.56,1418.92 L765.90,1419.59 L768.24,1420.26 L770.59,1420.92 L772.93,1421.58 L775.27,1422.24 L777.61,1422.89 L779.95,1423.55 L782.29,1424.20 L784.64,1424.84 L786.98,1425.49 L789.32,1426.13 L791.66,1426.77 L794.00,1427.41 L796.35,1428.04 L798.69,1428.68 L801.03,1429.31 L803.37,1429.93 L805.71,1430.56 L808.05,1431.18 L810.40,1431.80 L812.74,1432.42 L815.08,1433.04 L817.42,1433.65 L819.76,1434.26 L822.11,1434.87 L824.45,1435.48 L826.79,1436.08 L829.13,1436.69 L831.47,1437.29 L833.81,1437.88 L836.16,1438.48 L838.50,1439.07 L840.84,1439.66 L843.18,1440.25 L845.52,1440.84 L847.87,1441.43 L850.21,1442.01 L852.55,1442.59 L854.89,1443.17 L857.23,1443.75 L859.57,1444.32 L861.92,1444.89 L864.26,1445.46 L866.60,1446.03 L868.94,1446.60 L871.28,1447.17 L873.63,1447.73 L875.97,1448.29 L878.31,1448.85 L880.65,1449.41 L882.99,1449.96 L885.33,1450.51 L887.68,1451.07 L890.02,1451.62 L892.36,1452.16 L894.70,1452.71 L897.04,1453.25 L899.38,1453.80 L901.73,1454.34 L904.07,1454.88 L906.41,1455.41 L908.75,1455.95 L911.09,1456.48 L913.44,1457.02 L915.78,1457.55 L918.12,1458.07 L920.46,1458.60 L922.80,1459.13 L925.14,1459.65 L927.49,1460.17 L929.83,1460.69 L932.17,1461.21 L934.51,1461.73 L936.85,1462.24 L939.20,1462.76 L941.54,1463.27 L943.88,1463.78 L946.22,1464.29 L948.56,1464.80 L950.90,1465.30 L953.25,1465.80 L955.59,1466.31 L957.93,1466.81 L960.27,1467.31 L962.61,1467.81 L964.96,1468.30 L967.30,1468.80 L969.64,1469.29 L971.98,1469.78 L974.32,1470.27 L976.66,1470.76 L979.01,1471.25 L981.35,1471.74 L983.69,1472.22 L986.03,1472.71 L988.37,1473.19 L990.72,1473.67 L993.06,1474.15 L995.40,1474.62 L997.74,1475.10 L1000.08,1475.58 L1002.42,1476.05 L1004.77,1476.52 L1007.11,1476.99 L1009.45,1477.46 L1011.79,1477.93 L1014.13,1478.40 L1016.47,1478.86 L1018.82,1479.33 L1021.16,1479.79 L1023.50,1480.25 L1025.84,1480.71 L1028.18,1481.17 L1030.53,1481.63 L1032.87,1482.08 L1035.21,1482.54 L1037.55,1482.99 L1039.89,1483.45 L1042.23,1483.90 L1044.58,1484.35 L1046.92,1484.80 L1049.26,1485.24 L1051.60,1485.69 L1053.94,1486.14 L1056.29,1486.58 L1058.63,1487.02 L1060.97,1487.47 L1063.31,1487.91 L1065.65,1488.35 L1067.99,1488.78 L1070.34,1489.22 L1072.68,1489.66 L1075.02,1490.09 L1077.36,1490.52 L1079.70,1490.96 L1082.05,1491.39 L1084.39,1491.82 L1086.73,1492.25 L1089.07,1492.67 L1091.41,1493.10 L1093.75,1493.53 L1096.10,1493.95 L1098.44,1494.38 L1100.78,1494.80 L1103.12,1495.22 L1105.46,1495.64 L1107.81,1496.06 L1110.15,1496.48 L1112.49,1496.89 L1114.83,1497.31 L1117.17,1497.72 L1119.51,1498.14 L1121.86,1498.55 L1124.20,1498.96 L1126.54,1499.37 L1128.88,1499.78 L1131.22,1500.19 L1133.56,1500.60 L1135.91,1501.01 L1138.25,1501.41 L1140.59,1501.82 L1142.93,1502.22 L1145.27,1502.62 L1147.62,1503.02 L1149.96,1503.42 L1152.30,1503.82 L1154.64,1504.22 L1156.98,1504.62 L1159.32,1505.02 L1161.67,1505.41 L1164.01,1505.81 L1166.35,1506.20 L1168.69,1506.59 L1171.03,1506.99 L1173.38,1507.38 L1175.72,1507.77 L1178.06,1508.16 L1180.40,1508.55 L1182.74,1508.93 L1185.08,1509.32 L1187.43,1509.71 L1189.77,1510.09 L1192.11,1510.47 L1194.45,1510.86 L1196.79,1511.24 L1199.14,1511.62 L1201.48,1512.00 L1203.82,1512.38 L1206.16,1512.76 L1208.50,1513.14 L1210.84,1513.51 L1213.19,1513.89 L1215.53,1514.26 L1217.87,1514.64 L1220.21,1515.01 L1222.55,1515.38 L1224.89,1515.75 L1227.24,1516.13 L1229.58,1516.50 L1231.92,1516.86 L1234.26,1517.23 L1236.60,1517.60 L1238.95,1517.97 L1241.29,1518.33 L1243.63,1518.70 L1245.97,1519.06 L1248.31,1519.43 L1250.65,1519.79 L1253.00,1520.15 L1255.34,1520.51 L1257.68,1520.87 L1260.02,1521.23 L1262.36,1521.59 L1264.71,1521.95 L1267.05,1522.30 L1269.39,1522.66 L1271.73,1523.02 L1274.07,1523.37 L1276.41,1523.72 L1278.76,1524.08 L1281.10,1524.43 L1283.44,1524.78" stroke="#0070C0" stroke-width="5.15" stroke-linecap="round" stroke-dasharray="0 10.28" fill="none"/>
<path d="M1175.14,1016.85L1186.86,1028.56M1175.14,1028.56L1186.86,1016.85" stroke="#404040" stroke-width="2.7" fill="none"/>
<circle cx="1181.00" cy="1068.00" r="6.90" fill="#0070C0"/>
<circle cx="1181.00" cy="1113.90" r="6.90" fill="#FF0000"/>
<text transform="translate(1202.20,1033.00) scale(1.0025,1)" x="-2.60" y="0" font-size="31.69" font-weight="normal" fill="#595959">Nm</text>
<text transform="translate(1202.20,1078.30) scale(1.0101,1)" x="-2.53" y="0" font-size="30.81" font-weight="normal" fill="#595959">Dm</text>
<text transform="translate(1202.20,1123.60) scale(1.0609,1)" x="-2.46" y="0" font-size="29.94" font-weight="normal" fill="#595959">Nm</text>
<text transform="translate(442.80,1095.70) scale(1.0269,1)" x="-0.07" y="0" font-size="30.38" font-weight="normal" fill="#404040">y = -678*ln(x) + 2072</text>
<text transform="translate(528.50,1137.70) scale(0.7637,1)" x="-2.62" y="0" font-size="31.98" font-weight="normal" fill="#404040">R</text>
<text transform="translate(545.70,1134.56) scale(0.9607,1)" x="-0.65" y="0" font-size="32.22" fill="#404040">²</text>
<text transform="translate(565.40,1137.70) scale(0.9966,1)" x="-1.49" y="0" font-size="30.52" font-weight="normal" fill="#404040">= 0.96</text>
<text transform="translate(910.30,1328.60) scale(1.0118,1)" x="-0.08" y="0" font-size="30.96" font-weight="normal" fill="#FF0000">y = -644*ln(x) + 2107</text>
<text transform="translate(996.70,1370.50) scale(0.7637,1)" x="-2.62" y="0" font-size="31.98" font-weight="normal" fill="#FF0000">R</text>
<text transform="translate(1013.90,1367.36) scale(0.9607,1)" x="-0.65" y="0" font-size="32.22" fill="#FF0000">²</text>
<text transform="translate(1033.60,1370.50) scale(1.0062,1)" x="-1.48" y="0" font-size="30.23" font-weight="normal" fill="#FF0000">= 0.99</text>
<text transform="translate(376.50,1428.10) scale(0.9970,1)" x="-0.08" y="0" font-size="31.40" font-weight="normal" fill="#0070C0">y = -419*ln(x) + 1358</text>
<text transform="translate(461.60,1470.20) scale(0.7637,1)" x="-2.62" y="0" font-size="31.98" font-weight="normal" fill="#0070C0">R</text>
<text transform="translate(478.80,1467.06) scale(0.9607,1)" x="-0.65" y="0" font-size="32.22" fill="#0070C0">²</text>
<text transform="translate(498.50,1470.20) scale(0.9763,1)" x="-1.55" y="0" font-size="31.69" font-weight="normal" fill="#0070C0">= 0.97</text>
<text transform="translate(21.90,903.90) scale(0.9979,1)" x="-2.02" y="0" font-size="30.23" font-weight="bold" fill="#000000">B</text>
<text transform="translate(514.30,1676.80) scale(0.9670,1)" x="-3.30" y="0" font-size="40.26" font-weight="normal" fill="#595959">Flow</text>
<text transform="translate(604.90,1676.80) scale(0.9539,1)" x="-1.12" y="0" font-size="40.26" font-weight="normal" fill="#595959">speed</text>
<text transform="translate(721.40,1676.80) scale(1.0037,1)" x="-2.50" y="0" font-size="40.26" font-weight="normal" fill="#595959">(cm/s)</text>
<text transform="translate(35.70,1517.10) rotate(-90) scale(0.9344,1)" x="-0.18" y="0" font-size="40.99" font-weight="normal" fill="#595959">Variance</text>
<text transform="translate(35.70,1356.20) rotate(-90) scale(1.0946,1)" x="-1.72" y="0" font-size="40.99" font-weight="normal" fill="#595959">of</text>
<text transform="translate(35.70,1307.80) rotate(-90) scale(0.9552,1)" x="-2.64" y="0" font-size="40.99" font-weight="normal" fill="#595959">body</text>
<text transform="translate(35.70,1211.80) rotate(-90) scale(0.9195,1)" x="-1.74" y="0" font-size="40.99" font-weight="normal" fill="#595959">angles</text>
<text transform="translate(35.70,1089.50) rotate(-90) scale(0.9564,1)" x="-2.54" y="0" font-size="40.99" font-weight="normal" fill="#595959">(deg</text>
<text transform="translate(35.70,997.90) rotate(-90) scale(0.7085,1)" x="-0.24" y="0" font-size="40.99" font-weight="normal" fill="#595959">)</text>
<text transform="translate(34.97,1013.60) rotate(-90) scale(0.8765,1)" x="-0.89" y="0" font-size="44.64" fill="#595959">²</text>
</svg>
</body></html>
